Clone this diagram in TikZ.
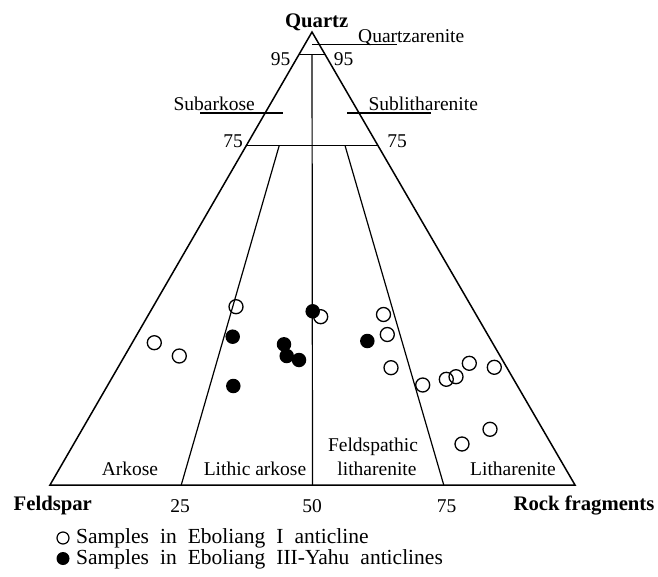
\documentclass[tikz,border=0pt]{standalone}
\usepackage{fontspec}
\setmainfont{Liberation Serif}
\usetikzlibrary{calc}
\newcommand{\legendfont}{\fontsize{21.5}{24}\selectfont\spaceskip=11pt\relax}
\begin{document}
\begin{tikzpicture}[x=1pt,y=-1pt,
  edge/.style={line width=1.5pt},
  thinline/.style={line width=1.2pt},
  opensample/.style={circle,draw,line width=1.3pt,minimum size=14pt,inner sep=0pt},
  fullsample/.style={circle,fill,minimum size=14.5pt,inner sep=0pt},
  lab/.style={font=\fontsize{19.5}{22}\selectfont,inner sep=0pt},
  leg/.style={font=\legendfont,inner sep=0pt,anchor=base west},
  tit/.style={font=\bfseries\fontsize{20.7}{24}\selectfont,inner sep=0pt},
]
\useasboundingbox (0,0) rectangle (658,577);
% corners
\coordinate (Q) at (312,32);
\coordinate (F) at (50,485);
\coordinate (R) at (575,485);
\coordinate (q95l) at ($(Q)!0.05!(F)$);
\coordinate (q95r) at ($(Q)!0.05!(R)$);
\coordinate (q75l) at ($(Q)!0.25!(F)$);
\coordinate (q75r) at ($(Q)!0.25!(R)$);
\coordinate (b25) at ($(F)!0.25!(R)$);
\coordinate (b50) at ($(F)!0.5!(R)$);
\coordinate (b75) at ($(F)!0.75!(R)$);
\coordinate (m95) at ($(q95l)!0.5!(q95r)$);
\coordinate (s25) at ($(Q)!0.25!(b25)$);
\coordinate (s75) at ($(Q)!0.25!(b75)$);
% triangle and fields
\draw[edge] (Q) -- (F) -- (R) -- cycle;
\draw[thinline] (q95l) -- (q95r);
\draw[thinline] (q75l) -- (q75r);
\draw[thinline] (m95) -- (b50);
\draw[thinline] (s25) -- (b25);
\draw[thinline] (s75) -- (b75);
% underlines
\coordinate (u1a) at (312,44.6); \coordinate (u1b) at (397,44.6);
\coordinate (u2a) at (200,113); \coordinate (u2b) at (283,113);
\coordinate (u3a) at (347,113); \coordinate (u3b) at (430.5,113);
\draw[thinline] (u1a) -- (u1b);
\draw[thinline] (u2a) -- (u2b);
\draw[thinline] (u3a) -- (u3b);
% labels
\node[tit,anchor=base] (tq) at (316.7,27.3) {Quartz};
\node[lab,anchor=base west] (tqa) at (358,43) {Quartzarenite};
\node[lab,anchor=base] (t95l) at (280.5,65.7) {95};
\node[lab,anchor=base] (t95r) at (343.5,65.7) {95};
\node[lab,anchor=base east] (tsa) at (255,110.5) {Subarkose};
\node[lab,anchor=base west] (tsl) at (368.3,110.5) {Sublitharenite};
\node[lab,anchor=base] (t75l) at (233,148) {75};
\node[lab,anchor=base] (t75r) at (397,148) {75};
\node[lab,anchor=base] (tar) at (130,475) {Arkose};
\node[lab,anchor=base] (tla) at (255,475) {Lithic arkose};
\node[lab,anchor=base] (tfl1) at (373,451) {Feldspathic};
\node[lab,anchor=base] (tfl2) at (377,475) {litharenite};
\node[lab,anchor=base] (tli) at (513,475) {Litharenite};
\node[tit,anchor=base] (tf) at (52.8,510.5) {Feldspar};
\node[tit,anchor=base] (tr) at (584,510.5) {Rock fragments};
\node[lab,anchor=base] (n25) at (180,512.5) {25};
\node[lab,anchor=base] (n50) at (312,512.5) {50};
\node[lab,anchor=base] (n75) at (446.5,512.5) {75};
% open samples
\foreach \x/\y [count=\i] in {154.3/342.7,179.3/356,236/306.7,320.7/316.7,383.5/314.5,387.3/334.5,391/367.7,422.7/385,446.3/379.3,456/376.7,469.3/363.3,494.3/367.3,490/429.3,462/444}
  \node[opensample] (o\i) at (\x,\y) {};
% filled samples
\foreach \x/\y [count=\i] in {232.7/336.7,233.3/386,284/344.3,286.7/356,299/360,312.7/311.3,367.3/341}
  \node[fullsample] (f\i) at (\x,\y) {};
% legend
\node[opensample,minimum size=12pt,line width=1.2pt] (lo) at (63,538) {};
\node[fullsample,minimum size=13pt] (lf) at (63,558.5) {};
\node[leg] (lt1) at (76,543.5) {Samples in Eboliang I anticline};
\node[leg] (lt2) at (76,564) {Samples in Eboliang III-Yahu anticlines};
\end{tikzpicture}
\end{document}
